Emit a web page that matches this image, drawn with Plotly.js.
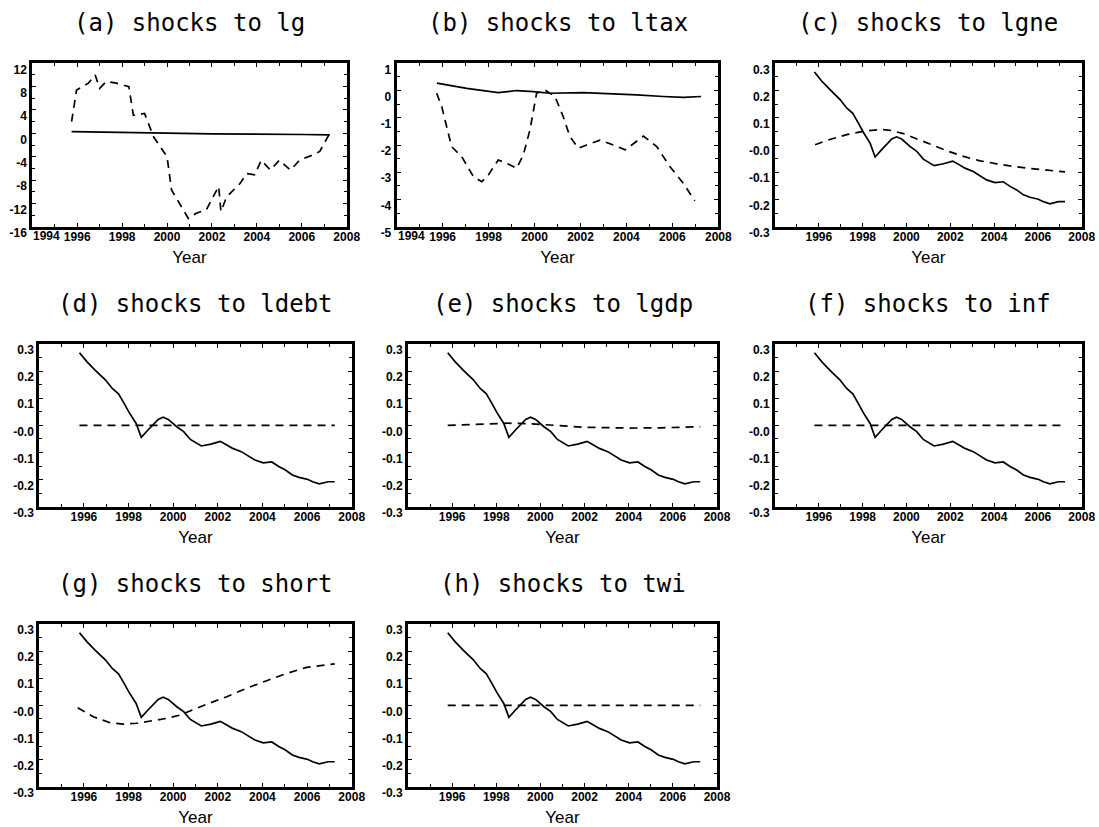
<!DOCTYPE html>
<html>
<head>
<meta charset="utf-8">
<script src="https://cdn.plot.ly/plotly-3.0.1.min.js"></script>
<style>html,body{margin:0;padding:0;background:#fff;}#chart{width:1099px;height:827px;}</style>
</head>
<body>
<div id="chart"></div>
<script>
// ---------- data ----------
const panelTitles = ['(a) shocks to lg', '(b) shocks to ltax', '(c) shocks to lgne', '(d) shocks to ldebt',
                     '(e) shocks to lgdp', '(f) shocks to inf', '(g) shocks to short', '(h) shocks to twi'];

// panel (a)
const aSolidX = [1995.75, 1997.0, 1998.5, 2000.0, 2002.0, 2004.0, 2006.0, 2007.25];
const aSolidY = [0.3, 0.2, 0.05, 0.05, -0.1, -0.1, -0.2, -0.25];
const aDashX = [1995.75, 1995.97, 1996.5, 1996.8, 1997.0, 1997.3, 1997.75, 1998.3, 1998.5, 1999.0, 1999.4, 2000.0,
                2000.2, 2000.65, 2000.95, 2001.3, 2001.75, 2002.05, 2002.3, 2002.4, 2002.65, 2003.25, 2003.55, 2003.9,
                2004.2, 2004.6, 2005.0, 2005.5, 2005.9, 2006.5, 2006.8, 2007.2];
const aDashY = [2.0, 7.4, 8.6, 10.0, 7.7, 8.9, 8.6, 8.0, 3.1, 3.4, -0.6, -4.0,
                -9.7, -12.6, -14.6, -13.7, -13.1, -10.9, -9.1, -13.4, -10.9, -8.6, -6.9, -7.1,
                -4.6, -6.3, -4.6, -6.3, -4.6, -3.7, -3.1, -0.3];

// panel (b)
const bSolidX = [1995.75, 1997.05, 1998.42, 1999.22, 1999.95, 2000.67, 2002.12, 2003.0, 2004.45, 2005.6, 2006.48, 2007.25];
const bSolidY = [0.27, 0.08, -0.08, 0.0, -0.04, -0.1, -0.08, -0.1, -0.16, -0.22, -0.25, -0.22];
const bDashX = [1995.74, 1995.96, 1996.39, 1996.83, 1997.34, 1997.7, 1997.99, 1998.42, 1998.79, 1999.22, 1999.51, 1999.8,
                2000.09, 2000.46, 2000.89, 2001.25, 2001.54, 2001.91, 2002.27, 2002.85, 2003.43, 2003.94, 2004.23, 2004.74,
                2005.32, 2005.9, 2006.48, 2006.98];
const bDashY = [-0.1, -0.59, -2.06, -2.43, -3.16, -3.35, -3.1, -2.55, -2.67, -2.86, -2.37, -1.45,
                -0.1, 0.02, -0.22, -0.96, -1.69, -2.12, -2.0, -1.82, -2.0, -2.18, -2.0, -1.67,
                -2.06, -2.8, -3.41, -4.05];

// common solid response (panels c-h)
const coreX = [1995.8, 1996.13, 1996.5, 1996.97, 1997.27, 1997.55, 1997.8, 1998.03, 1998.34, 1998.57, 1998.87, 1999.33,
               1999.55, 1999.78, 2000.16, 2000.47, 2000.77, 2001.26, 2001.69, 2002.11, 2002.42, 2002.67, 2003.05, 2003.28,
               2003.66, 2004.04, 2004.42, 2004.73, 2005.03, 2005.34, 2005.64, 2006.02, 2006.25, 2006.55, 2006.94, 2007.24];
const coreY = [0.268, 0.235, 0.204, 0.167, 0.136, 0.116, 0.081, 0.047, 0.007, -0.044, -0.017, 0.022,
               0.030, 0.022, -0.005, -0.023, -0.052, -0.076, -0.069, -0.059, -0.073, -0.085, -0.097, -0.109,
               -0.128, -0.138, -0.135, -0.152, -0.165, -0.183, -0.192, -0.199, -0.208, -0.216, -0.208, -0.208];

// dashed responses (panels c-h)
const cDashX = [1995.83, 1996.5, 1997.27, 1998.03, 1998.8, 1999.25, 1999.86, 2000.47, 2001.08, 2001.84, 2002.6, 2003.36,
                2004.12, 2004.88, 2005.64, 2006.4, 2007.24];
const cDashY = [0.001, 0.02, 0.038, 0.05, 0.057, 0.054, 0.042, 0.022, 0.001, -0.021, -0.042, -0.058,
                -0.069, -0.079, -0.086, -0.093, -0.099];
const dDashX = [1995.8, 2007.24];
const dDashY = [0.0, 0.0];
const eDashX = [1995.8, 1997.0, 1998.5, 1999.5, 2000.5, 2002.0, 2004.0, 2005.5, 2007.24];
const eDashY = [0.0, 0.003, 0.008, 0.006, 0.0, -0.007, -0.01, -0.009, -0.005];
const fDashX = [1995.8, 2007.24];
const fDashY = [0.0, 0.0];
const gDashX = [1995.72, 1996.42, 1997.17, 1997.77, 1998.36, 1998.96, 1999.71, 2000.3, 2000.9, 2001.5, 2002.4, 2003.29,
                2004.19, 2005.09, 2005.98, 2007.24];
const gDashY = [-0.009, -0.042, -0.064, -0.069, -0.066, -0.058, -0.048, -0.036, -0.015, 0.004, 0.032, 0.063,
                0.091, 0.118, 0.14, 0.153];
const hDashX = [1995.8, 2007.24];
const hDashY = [0.0, 0.0];

// tick labels
const xTicksFull = [1994, 1996, 1998, 2000, 2002, 2004, 2006, 2008];
const xTicksShort = [1996, 1998, 2000, 2002, 2004, 2006, 2008];
const yTicksA = [-16, -12, -8, -4, 0, 4, 8, 12];
const yTicksB = [-5, -4, -3, -2, -1, 0, 1];
const yTicksC = [-0.3, -0.2, -0.1, 0.0, 0.1, 0.2, 0.3];
const yTextC = ['-0.3', '-0.2', '-0.1', '-0.0', '0.1', '0.2', '0.3'];

// ---------- build ----------
const W = 1099, H = 827;
const panels = [
  {solid: [aSolidX, aSolidY], dash: [aDashX, aDashY], xt: xTicksFull, yt: yTicksA, ytext: yTicksA.map(String), yr: [-16, 12], ym: 2,
   box: [32.3, 346.7, 63.3, 226.7]},
  {solid: [bSolidX, bSolidY], dash: [bDashX, bDashY], xt: xTicksFull, yt: yTicksB, ytext: yTicksB.map(String), yr: [-5, 1], ym: 0.5,
   box: [396.7, 718.3, 63.3, 226.7]},
  {solid: [coreX, coreY], dash: [cDashX, cDashY], xt: xTicksShort, yt: yTicksC, ytext: yTextC, yr: [-0.3, 0.3], ym: 0.05,
   box: [775, 1081.7, 63.3, 226.7]},
  {solid: [coreX, coreY], dash: [dDashX, dDashY], xt: xTicksShort, yt: yTicksC, ytext: yTextC, yr: [-0.3, 0.3], ym: 0.05,
   box: [39.3, 351.7, 344, 506.7]},
  {solid: [coreX, coreY], dash: [eDashX, eDashY], xt: xTicksShort, yt: yTicksC, ytext: yTextC, yr: [-0.3, 0.3], ym: 0.05,
   box: [408, 717, 344, 506.7]},
  {solid: [coreX, coreY], dash: [fDashX, fDashY], xt: xTicksShort, yt: yTicksC, ytext: yTextC, yr: [-0.3, 0.3], ym: 0.05,
   box: [775, 1081.7, 344, 506.7]},
  {solid: [coreX, coreY], dash: [gDashX, gDashY], xt: xTicksShort, yt: yTicksC, ytext: yTextC, yr: [-0.3, 0.3], ym: 0.05,
   box: [39.3, 351.7, 624, 786.7]},
  {solid: [coreX, coreY], dash: [hDashX, hDashY], xt: xTicksShort, yt: yTicksC, ytext: yTextC, yr: [-0.3, 0.3], ym: 0.05,
   box: [408, 717, 624, 786.7]}
];

const tickFont = {family: 'Liberation Sans, Arial, sans-serif', size: 12, color: '#000', weight: 'bold'};
const data = [];
const layout = {
  width: W, height: H, margin: {l: 0, r: 0, t: 0, b: 0},
  paper_bgcolor: '#fff', plot_bgcolor: '#fff', showlegend: false, annotations: []
};

panels.forEach((p, i) => {
  const n = i === 0 ? '' : String(i + 1);
  const xa = 'x' + n, ya = 'y' + n;
  data.push({x: p.solid[0], y: p.solid[1], xaxis: xa, yaxis: ya, mode: 'lines',
             line: {color: '#000', width: 1.7}, hoverinfo: 'skip'});
  data.push({x: p.dash[0], y: p.dash[1], xaxis: xa, yaxis: ya, mode: 'lines',
             line: {color: '#000', width: 1.7, dash: '8px,6px'}, hoverinfo: 'skip'});
  const [l, r, t, b] = p.box;
  // the first year label (1994) sits to the right of its tick, beside the lowest y label
  const firstLeft = p.xt[0] === 1994;
  layout['xaxis' + n] = {
    domain: [l / W, r / W], anchor: ya, range: [1994, 2008],
    tickmode: 'array', tickvals: p.xt, ticktext: p.xt.map(v => (firstLeft && v === p.xt[0]) ? '' : String(v)),
    ticks: 'inside', ticklen: 4, tickwidth: 1, tickcolor: '#000',
    minor: {tickmode: 'linear', tick0: 1994, dtick: 1, ticks: 'inside', ticklen: 3, tickcolor: '#000', showgrid: false},
    showline: true, linewidth: 3, linecolor: '#000', mirror: 'allticks',
    showgrid: false, zeroline: false, tickfont: tickFont, ticklabelstandoff: -3,
    title: {text: 'Year', font: {family: 'Liberation Sans, Arial, sans-serif', size: 17, color: '#000'}, standoff: 9}
  };
  if (firstLeft) {
    layout.annotations.push({
      text: '<b>' + p.xt[0] + '</b>', xref: xa, yref: 'paper', x: p.xt[0], y: 1 - (b + 9) / H,
      xanchor: 'left', yanchor: 'middle', showarrow: false, xshift: -1,
      font: {family: tickFont.family, size: tickFont.size, color: tickFont.color}
    });
  }
  layout['yaxis' + n] = {
    domain: [1 - b / H, 1 - t / H], anchor: xa, range: p.yr,
    tickmode: 'array', tickvals: p.yt, ticktext: p.ytext,
    ticks: 'inside', ticklen: 4, tickwidth: 1, tickcolor: '#000',
    minor: {tickmode: 'linear', tick0: p.yr[0], dtick: p.ym, ticks: 'inside', ticklen: 3, tickcolor: '#000', showgrid: false},
    showline: true, linewidth: 3, linecolor: '#000', mirror: 'allticks',
    showgrid: false, zeroline: false, tickfont: tickFont, ticklabelshift: 6
  };
  layout.annotations.push({
    text: panelTitles[i], xref: 'paper', yref: 'paper', x: (l + r) / 2 / W, y: 1 - (t - 40) / H,
    xanchor: 'center', yanchor: 'middle', showarrow: false,
    font: {family: 'DejaVu Sans Mono, monospace', size: 24, color: '#000'}
  });
});

Plotly.newPlot('chart', data, layout, {staticPlot: true});
</script>
</body>
</html>
